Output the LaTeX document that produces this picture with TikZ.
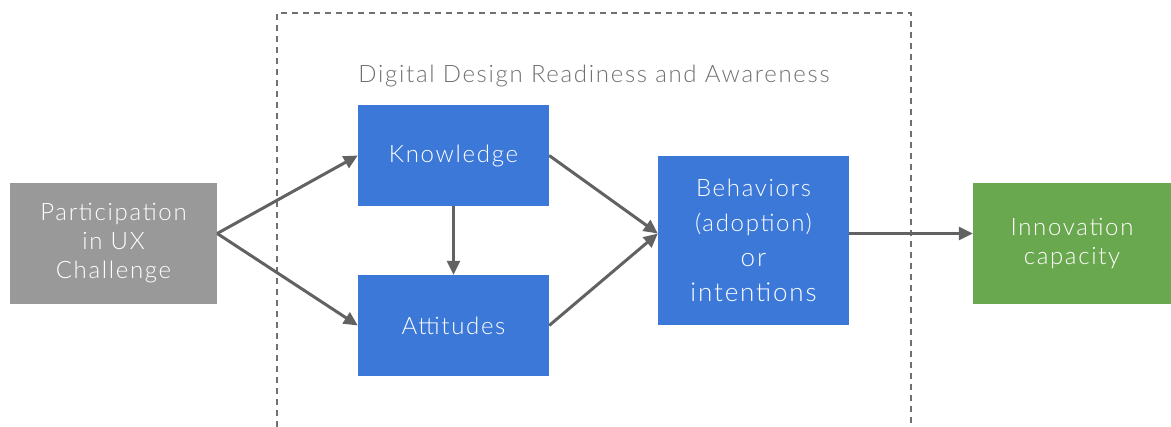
\documentclass[tikz,border=0pt]{standalone}
\usepackage{fontspec}
\setmainfont{Lato}[UprightFont={* Light}, LetterSpace=7]
\usepackage{xcolor}
\usetikzlibrary{arrows.meta}
\definecolor{boxblue}{HTML}{3C78D8}
\definecolor{boxgray}{HTML}{999999}
\definecolor{boxgreen}{HTML}{6AA84F}
\definecolor{linkgray}{HTML}{626262}
\definecolor{framegray}{HTML}{707070}
\tikzset{
  block/.style={shape=rectangle, draw=none, text=white, align=center, inner sep=0pt,
    font=\fontsize{24}{29}\selectfont},
  link/.style={draw=linkgray, line width=3pt, -{Triangle[length=14pt,width=13pt]}},
}

\begin{document}
\begin{tikzpicture}[x=1pt,y=-1pt]
     \useasboundingbox (0,0) rectangle (1171,427);
     \draw [framegray, line width=1.6pt, dash pattern=on 6pt off 5pt]
           (277,427) -- (277,13) -- (911,13) -- (911,427);
     \path (594, 76) node [text=framegray, font=\fontsize{24}{26}\selectfont] (title) {Digital Design Readiness and Awareness}
           (113.5, 243.5) node [block, fill=boxgray, minimum width=207pt, minimum height=121pt] (part) {Participation\\in UX\\Challenge}
           (453.5, 155.5) node [block, fill=boxblue, minimum width=191pt, minimum height=101pt] (know) {Knowledge}
           (453.5, 325.5) node [block, fill=boxblue, minimum width=191pt, minimum height=101pt] (att) {Attitudes}
           (753.5, 240.5) node [block, fill=boxblue, minimum width=191pt, minimum height=169pt,
                                font=\fontsize{24}{35}\selectfont] (beh) {Behaviors\\(adoption)\\{\fontsize{26}{33}\selectfont or}\\{\fontsize{26}{33}\selectfont intentions}}
           (1072, 243.5) node [block, fill=boxgreen, minimum width=198pt, minimum height=121pt] (innov) {Innovation\\capacity}
     ;
     \draw [link] ([yshift=10pt]part.east) -- (know.west);
     \draw [link] ([yshift=10pt]part.east) -- (att.west);
     \draw [link] (know.south) -- (att.north);
     \draw [link] (know.east) -- ([yshift=7pt]beh.west);
     \draw [link] (att.east) -- ([yshift=7pt]beh.west);
     \draw [link] ([yshift=7pt]beh.east) -- ([yshift=10pt]innov.west);
  \end{tikzpicture}
\end{document}
